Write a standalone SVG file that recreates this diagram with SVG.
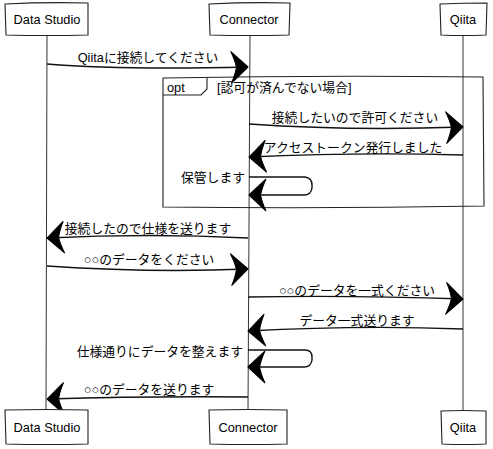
<svg xmlns="http://www.w3.org/2000/svg" width="493" height="449" viewBox="0 0 493 449">
<style>
  text { font-family: "Liberation Sans", "Noto Sans CJK JP", sans-serif; font-size: 12.8px; fill: #000; }
  .box { fill: #fff; stroke: #222; stroke-width: 1.1; }
  .life { fill: none; stroke: #333; stroke-width: 1; }
  .msg { fill: none; stroke: #111; stroke-width: 1.4; marker-end: url(#ah); }
  .frame { fill: none; stroke: #222; stroke-width: 1.1; }
  .mid { text-anchor: middle; }
  .end { text-anchor: end; }
</style>
<defs>
  <marker id="ah" markerUnits="userSpaceOnUse" markerWidth="20" markerHeight="34" viewBox="-18 -16 19 32" refX="0" refY="0" orient="auto">
    <path d="M0,0 L-16,-15 Q-12,-6 -11,0 Q-12,6 -16,15 Z" fill="#000" stroke="#000" stroke-width="1" stroke-linejoin="round"/>
  </marker>
</defs>
<rect width="493" height="449" fill="#fff"/>

<g id="lifelines">
  <path class="life" d="M47,35 L46,410"/>
  <path class="life" d="M250,35 L248,410"/>
  <path class="life" d="M463,35 L463,411"/>
</g>

<g id="opt-frame">
  <path class="frame" d="M163,78 Q320,75 483,77 L484,206 Q320,209 163,207 Z"/>
  <path class="frame" d="M163,95 L201,95 L207,89 L207,78"/>
  <text x="167" y="92">opt</text>
  <text x="217" y="92">[認可が済んでない場合]</text>
</g>

<g id="connectors">
  <path class="msg" d="M47,64 Q120,70 248,67"/>
  <text class="mid" x="148" y="62">Qiitaに接続してください</text>

  <path class="msg" d="M249,124 Q350,131 463,127"/>
  <text class="mid" x="355" y="122">接続したいので許可ください</text>

  <path class="msg" d="M463,155 Q360,152 249,157"/>
  <text class="mid" x="353" y="152">アクセストークン発行しました</text>

  <path class="msg" d="M249,177 L305,177 Q312,178 312,185 L312,188 Q311,195 304,195 L249,195"/>
  <text class="end" x="245" y="182">保管します</text>

  <path class="msg" d="M248,238 Q150,233 47,238"/>
  <text class="mid" x="148" y="233">接続したので仕様を送ります</text>

  <path class="msg" d="M47,266 Q150,273 248,269"/>
  <text class="mid" x="149" y="264">○○のデータをください</text>

  <path class="msg" d="M248,297 Q350,295 463,299"/>
  <text class="mid" x="357" y="295">○○のデータを一式ください</text>

  <path class="msg" d="M463,329 Q360,325 248,331"/>
  <text class="mid" x="357" y="325">データ一式送ります</text>

  <path class="msg" d="M248,350 L305,350 Q312,350 312,357 L312,360 Q311,367 304,367 L248,367"/>
  <text class="end" x="243" y="356">仕様通りにデータを整えます</text>

  <path class="msg" d="M248,397 Q150,396 47,399"/>
  <text class="mid" x="149" y="394">○○のデータを送ります</text>
</g>

<g id="ds-top">
  <path class="box" d="M5,4 Q46,2 88,3 L88,35 Q46,36 6,35 Z"/>
  <text class="mid" x="47" y="24">Data Studio</text>
</g>
<g id="conn-top">
  <path class="box" d="M209,4 Q250,2 290,3 L289,35 Q250,36 210,35 Z"/>
  <text class="mid" x="249" y="24">Connector</text>
</g>
<g id="qiita-top">
  <path class="box" d="M440,4 Q463,3 487,3 L486,35 Q463,36 441,35 Z"/>
  <text class="mid" x="463" y="24">Qiita</text>
</g>

<g id="ds-bottom">
  <path class="box" d="M5,410 Q46,409 88,410 L88,444 Q46,445 6,444 Z"/>
  <text class="mid" x="47" y="432">Data Studio</text>
</g>
<g id="conn-bottom">
  <path class="box" d="M209,410 Q248,409 287,410 L287,444 Q248,445 210,444 Z"/>
  <text class="mid" x="248" y="432">Connector</text>
</g>
<g id="qiita-bottom">
  <path class="box" d="M441,411 Q463,410 486,411 L486,444 Q463,445 442,444 Z"/>
  <text class="mid" x="463" y="432">Qiita</text>
</g>
</svg>
